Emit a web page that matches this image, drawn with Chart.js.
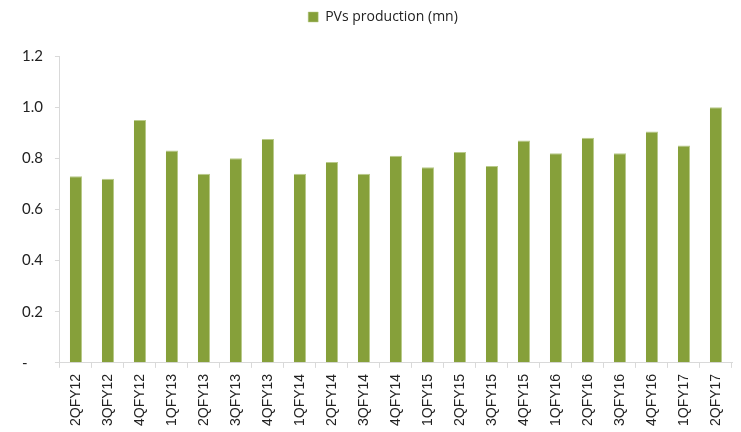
<!DOCTYPE html>
<html>
<head>
<meta charset="utf-8">
<script src="https://cdn.jsdelivr.net/npm/chart.js@4/dist/chart.umd.min.js"></script>
<style>
  html, body { margin: 0; padding: 0; background: #fff; }
  #wrap { width: 741px; height: 432px; }
</style>
</head>
<body>
<div id="wrap"><canvas id="chart"></canvas></div>
<script>
const quarters = ['2QFY12', '3QFY12', '4QFY12', '1QFY13', '2QFY13', '3QFY13', '4QFY13',
    '1QFY14', '2QFY14', '3QFY14', '4QFY14', '1QFY15', '2QFY15', '3QFY15', '4QFY15',
    '1QFY16', '2QFY16', '3QFY16', '4QFY16', '1QFY17', '2QFY17'];
const pvProduction = [0.73, 0.72, 0.95, 0.83, 0.74, 0.80, 0.875, 0.74, 0.785, 0.74, 0.81,
    0.765, 0.825, 0.77, 0.87, 0.82, 0.88, 0.82, 0.905, 0.85, 1.0];

const axisGrey = '#d9d9d9';

// push the plot area down below the legend and nudge the legend right, like the original
const legendSpacer = {
    id: 'legendSpacer',
    beforeLayout(chart) {
        const legend = chart.legend;
        if (!legend || legend._spaced) return;
        const fit = legend.fit;
        legend.fit = function () {
            fit.call(this);
            this.height += 22;
        };
        legend._spaced = true;
    },
    afterLayout(chart) {
        chart.legend.left += 12;
        chart.legend.right += 12;
    }
};

new Chart(document.getElementById('chart'), {
    type: 'bar',
    data: {
        labels: quarters,
        datasets: [{
            label: 'PVs production (mn)',
            data: pvProduction,
            backgroundColor: '#86a03a',
            borderColor: '#b9ca8a',
            borderWidth: { top: 1, left: 0, right: 1, bottom: 0 },
            barPercentage: 0.38,
            categoryPercentage: 1.0
        }]
    },
    plugins: [legendSpacer],
    options: {
        responsive: true,
        maintainAspectRatio: false,
        animation: false,
        layout: { padding: { left: 10, right: 9, top: 0, bottom: 0 } },
        plugins: {
            legend: {
                position: 'top',
                labels: {
                    boxWidth: 10,
                    boxHeight: 10,
                    color: '#222',
                    font: { family: 'Open Sans', size: 14 }
                }
            },
            tooltip: { enabled: false }
        },
        scales: {
            x: {
                grid: {
                    drawOnChartArea: false,
                    drawTicks: true,
                    tickLength: 5,
                    color: axisGrey
                },
                border: { color: axisGrey, dash: [4, 3] },
                ticks: {
                    minRotation: 90,
                    maxRotation: 90,
                    color: '#222',
                    padding: 6,
                    font: { family: 'Liberation Sans', size: 14 }
                }
            },
            y: {
                min: 0,
                max: 1.2,
                grid: {
                    drawOnChartArea: false,
                    drawTicks: true,
                    tickLength: 5,
                    color: axisGrey
                },
                border: { color: axisGrey, dash: [4, 3] },
                ticks: {
                    stepSize: 0.2,
                    color: '#222',
                    padding: 12,
                    font: { family: 'Lato', size: 15 },
                    callback: v => Math.abs(v) < 1e-9 ? '-    ' : v.toFixed(1)
                }
            }
        }
    }
});
</script>
</body>
</html>
